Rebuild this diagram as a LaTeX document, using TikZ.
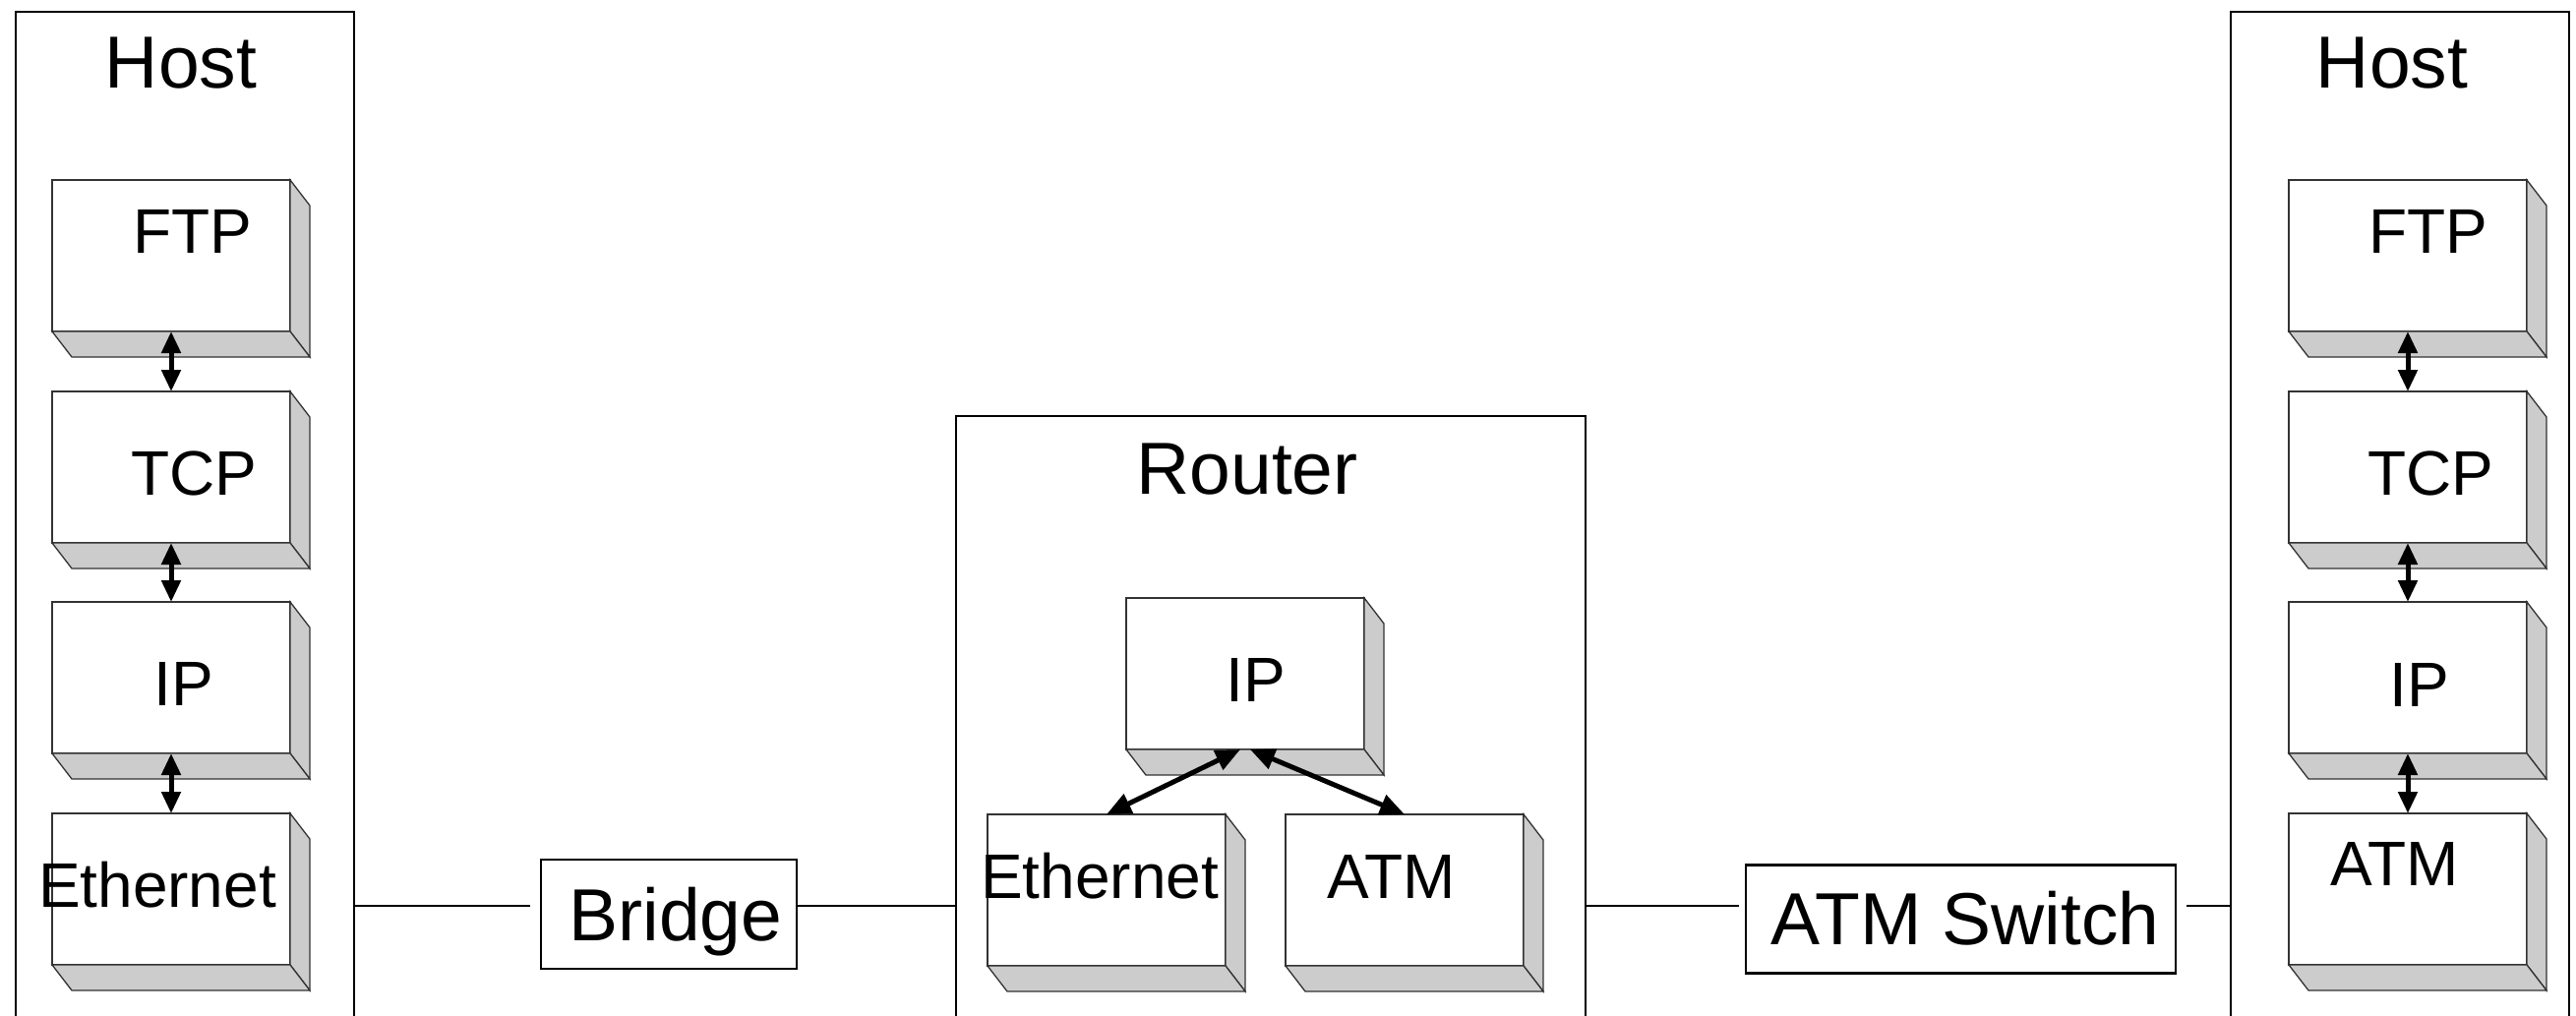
\documentclass[tikz,border=0pt]{standalone}
\usepackage{fontspec}
\setmainfont{Liberation Sans}
\usetikzlibrary{arrows.meta}

% one front face of a protocol layer, with its shaded right and bottom sides
\newcommand\layerbox[3]{%
  \node[layerface, anchor=north west] (#1) at (#2,#3) {};
  \filldraw[sideface] (#1.north east) -- ++(20,26) -- ([shift={(20,26)}]#1.south east) -- (#1.south east) -- cycle;
  \filldraw[sideface] (#1.south west) -- (#1.south east) -- ([shift={(20,26)}]#1.south east) -- ([shift={(20,26)}]#1.south west) -- cycle;
}

\tikzset{
  frame/.style={draw=black, line width=2.2pt, fill=white, outer sep=0pt, inner sep=0pt, anchor=north west},
  layerface/.style={draw=black!80, line width=1.3pt, fill=white, outer sep=0pt, inner sep=0pt,
    minimum width=242pt, minimum height=154pt},
  sideface/.style={draw=black!80, line width=1.3pt, fill=black!20},
  devbox/.style={draw=black, line width=2.6pt, fill=white, outer sep=0pt, inner sep=0pt},
  title/.style={font=\fontsize{75pt}{82pt}\selectfont, inner sep=0pt, anchor=base},
  layertext/.style={font=\fontsize{64pt}{72pt}\selectfont, inner sep=0pt, anchor=base},
  link/.style={line width=2.2pt, draw=black},
  updown/.style={line width=5pt, {Triangle[length=22pt,width=19pt]}-{Triangle[length=22pt,width=19pt]}},
  fanout/.style={line width=5pt, {Triangle[length=25pt,width=21pt]}-{Triangle[length=25pt,width=21pt]}},
}

\begin{document}
\begin{tikzpicture}[x=1pt, y=-1pt]
\useasboundingbox (0,0) rectangle (2619,1033);
\clip (0,0) rectangle (2619,1033);
\fill[white] (0,0) rectangle (2619,1033);

% ---------- left host ----------
\node[frame, minimum width=344pt, minimum height=1100pt] (lhost) at (16,12) {};
\node[title] (lhostname) at (184,89) {Host};
\layerbox{lftp}{53}{183}
\layerbox{ltcp}{53}{398}
\layerbox{lip}{53}{612}
\layerbox{leth}{53}{827}
\node[layertext] (lftptxt) at (196,257) {FTP};
\node[layertext] (ltcptxt) at (197,503) {TCP};
\node[layertext] (liptxt) at (187,717) {IP};
\node[layertext] (lethtxt) at (160,922) {Ethernet};
\draw[updown] (lftp.south) -- (ltcp.north);
\draw[updown] (ltcp.south) -- (lip.north);
\draw[updown] (lip.south) -- (leth.north);

% ---------- router ----------
\node[frame, minimum width=640pt, minimum height=700pt] (router) at (972,423) {};
\node[title] (routername) at (1268,502) {Router};
\layerbox{rip}{1145}{608}
\layerbox{reth}{1004}{828}
\layerbox{ratm}{1307}{828}
\node[layertext] (riptxt) at (1277,713) {IP};
\node[layertext] (rethtxt) at (1118,913) {Ethernet};
\node[layertext] (ratmtxt) at (1415,913) {ATM};
\draw[fanout] ([xshift=-5pt]rip.south) -- (reth.north);
\draw[fanout] ([xshift=5pt]rip.south) -- (ratm.north);

% ---------- right host ----------
\node[frame, minimum width=344pt, minimum height=1100pt] (rhost) at (2268,12) {};
\node[title] (rhostname) at (2432,89) {Host};
\layerbox{rftp}{2327}{183}
\layerbox{rtcp}{2327}{398}
\layerbox{rip2}{2327}{612}
\layerbox{ratm2}{2327}{827}
\node[layertext] (rftptxt) at (2469,257) {FTP};
\node[layertext] (rtcptxt) at (2471,503) {TCP};
\node[layertext] (rip2txt) at (2460,718) {IP};
\node[layertext] (ratm2txt) at (2435,900) {ATM};
\draw[updown] (rftp.south) -- (rtcp.north);
\draw[updown] (rtcp.south) -- (rip2.north);
\draw[updown] (rip2.south) -- (ratm2.north);

% ---------- bridge and ATM switch ----------
\node[devbox, minimum width=260pt, minimum height=111pt] (bridge) at (680,929.5) {};
\node[title] (bridgetxt) at (687,956) {Bridge};
\node[devbox, minimum width=437pt, minimum height=110pt] (switch) at (1993.5,934.3) {};
\node[title] (switchtxt) at (1998,960) {ATM Switch};

% ---------- links ----------
\draw[link, shorten >=11pt] (lhost.east |- 0,921) -- (bridge.west |- 0,921);
\draw[link] (bridge.east |- 0,921) -- (router.west |- 0,921);
\draw[link, shorten >=7pt] (router.east |- 0,921) -- (switch.west |- 0,921);
\draw[link, shorten <=11pt] (switch.east |- 0,921) -- (rhost.west |- 0,921);
\end{tikzpicture}
\end{document}
